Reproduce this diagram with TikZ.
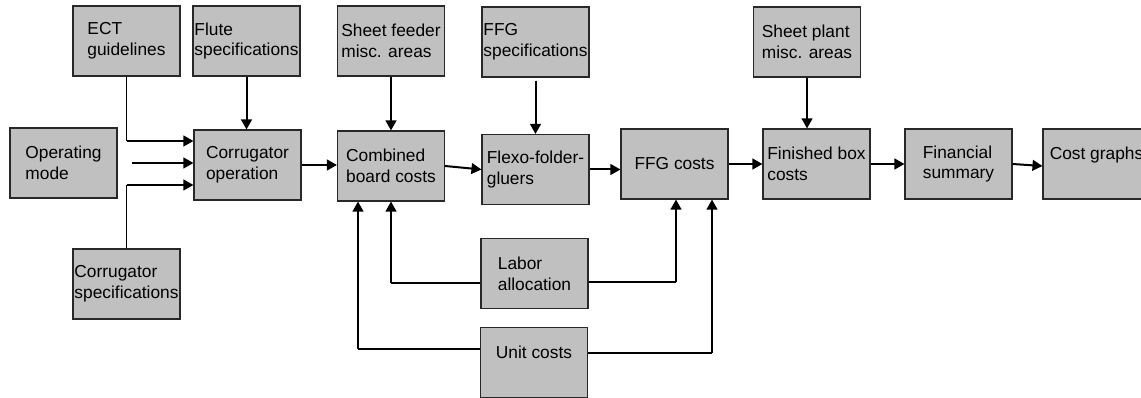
\documentclass[tikz,border=0pt]{standalone}
\usepackage{fontspec}
\setmainfont{Liberation Sans}
\usetikzlibrary{arrows.meta,calc}
\definecolor{boxgray}{RGB}{192,192,192}
\definecolor{edgegray}{RGB}{40,40,40}
\tikzset{
  blk/.style={draw=edgegray, fill=boxgray, line width=0.8pt, minimum width=80.25pt, minimum height=52.5pt,
    inner sep=0pt, align=left, font=\fontsize{13pt}{15.6pt}\selectfont},
  arr/.style={line width=1.5pt, -{Triangle[length=7.5pt,width=8pt]}},
  thinline/.style={line width=0.8pt},
}
\begin{document}
\begin{tikzpicture}[x=0.75pt,y=-0.75pt]
\useasboundingbox (0,0) rectangle (1141,398);
\clip (0,0) rectangle (1141,398);
% top row
\node[blk] (ect)     at (126.5,41) {ECT\\guidelines};
\node[blk] (flute)   at (246.5,41) {Flute\\specifications};
\node[blk] (sfeed)   at (391,41)   {Sheet feeder\\misc. areas};
\node[blk] (ffgspec) at (535.5,42) {FFG\\specifications};
\node[blk] (splant)  at (807,42)   {Sheet plant\\misc. areas};
% middle row
\node[blk] (opmode)  at (63.5,163)  {Operating\\mode};
\node[blk] (corrop)  at (247.5,165) {Corrugator\\operation};
\node[blk] (comb)    at (391,166)   {Combined\\board costs};
\node[blk] (flexo)   at (535.5,169.5) {Flexo-folder-\\gluers};
\node[blk] (ffgc)    at (674.5,164) {FFG costs};
\node[blk] (finbox)  at (816.5,164) {Finished box\\costs};
\node[blk] (finsum)  at (958.5,164) {Financial\\summary};
\node[blk] (costg)   at (1096.5,164) {Cost graphs\\\mbox{}};
% bottom
\node[blk] (corrspec) at (126.5,284) {Corrugator\\specifications};
\node[blk] (labor)    at (534.5,273.5) {Labor\\allocation};
\node[blk] (unit)     at (534,362.5) {Unit costs\\\mbox{}};
% inputs to corrugator operation
\coordinate (e1) at (ect.south |- 0,141);
\draw[thinline] (ect.south) -- (e1);
\draw[arr] (e1) -- (e1 -| corrop.west);
\coordinate (o1) at (132,163);
\draw[arr] (o1) -- (o1 -| corrop.west);
\coordinate (c1) at (corrspec.north |- 0,185);
\draw[thinline] (corrspec.north) -- (c1);
\draw[arr] (c1) -- (c1 -| corrop.west);
\draw[arr] (flute.south) -- (flute.south |- corrop.north);
% main chain
\draw[arr] (corrop.east) -- (corrop.east -| comb.west);
\draw[arr] (sfeed.south) -- (comb.north);
\draw[arr] (comb.east) -- (flexo.west);
\coordinate (f1) at ($(ffgspec.south)+(0,3)$);
\draw[arr] (f1) -- (flexo.north);
\draw[arr] (flexo.east) -- (flexo.east -| ffgc.west);
\draw[arr] (ffgc.east) -- (finbox.west);
\draw[arr] (splant.south) -- (splant.south |- finbox.north);
\draw[arr] (finbox.east) -- (finsum.west);
\draw[arr] (finsum.east) -- ($(costg.west)+(0,2)$);
% labor allocation
\coordinate (l1) at (391,283);
\draw[thinline] (labor.west |- l1) -- (l1);
\draw[arr] (l1) -- (l1 |- comb.south);
\coordinate (l2) at (676,282);
\draw[thinline] (labor.east |- l2) -- (l2);
\draw[arr] (l2) -- (l2 |- ffgc.south);
% unit costs
\coordinate (u1) at (358,349);
\draw[thinline] (unit.west |- u1) -- (u1);
\draw[arr] (u1) -- (u1 |- comb.south);
\coordinate (u2) at (712,353);
\draw[thinline] (unit.east |- u2) -- (u2);
\draw[arr] (u2) -- (u2 |- ffgc.south);
\end{tikzpicture}
\end{document}
